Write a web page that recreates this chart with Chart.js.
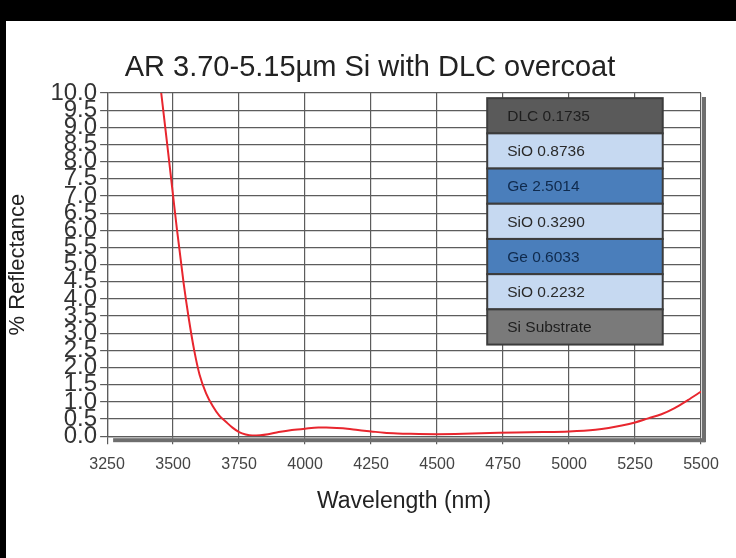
<!DOCTYPE html>
<html>
<head>
<meta charset="utf-8">
<script src="https://cdn.jsdelivr.net/npm/chart.js@4/dist/chart.umd.min.js"></script>
<style>
  html, body { margin: 0; padding: 0; background: #fff; }
  #wrap { width: 736px; height: 558px; position: relative; }
</style>
</head>
<body>
<div id="wrap"><canvas id="grafico"></canvas></div>
<script>
// curva de reflectância
const comprimentos = [3440, 3455, 3480, 3500, 3515, 3540, 3560, 3580, 3600, 3625, 3650, 3675, 3700, 3725, 3750, 3775, 3800, 3830, 3860, 3900, 3950, 4000, 4050, 4080, 4120, 4160, 4200, 4250, 4300, 4350, 4400, 4500, 4600, 4700, 4800, 4900, 5000, 5100, 5150, 5200, 5250, 5300, 5350, 5400, 5450, 5500];
const reflectancia = [11.0, 10.0, 8.35, 7.0, 6.0, 4.45, 3.4, 2.5, 1.8, 1.25, 0.88, 0.6, 0.42, 0.25, 0.12, 0.05, 0.02, 0.03, 0.06, 0.12, 0.18, 0.22, 0.25, 0.25, 0.24, 0.22, 0.18, 0.14, 0.1, 0.08, 0.07, 0.06, 0.07, 0.09, 0.11, 0.12, 0.14, 0.19, 0.24, 0.31, 0.4, 0.52, 0.64, 0.82, 1.05, 1.3];

// camadas do revestimento
const camadas = ["DLC 0.1735", "SiO 0.8736", "Ge 2.5014", "SiO 0.3290", "Ge 0.6033", "SiO 0.2232", "Si Substrate"];
const coresCamadas = ["#5a5a5a", "#c6d9f1", "#4a7ebb", "#c6d9f1", "#4a7ebb", "#c6d9f1", "#7a7a7a"];
const coresTexto = ["#1e1e1e", "#2a2a2a", "#0f2a4d", "#2a2a2a", "#0f2a4d", "#2a2a2a", "#1e1e1e"];

const titulo = "AR 3.70-5.15µm Si with DLC overcoat";

const pontos = comprimentos.map((c, i) => ({ x: c, y: reflectancia[i] }));

// fundo com as faixas pretas da imagem original + título
const fundo = {
  id: "fundo",
  beforeDraw(chart) {
    const ctx = chart.ctx;
    ctx.save();
    ctx.fillStyle = "#fff";
    ctx.fillRect(0, 0, chart.width, chart.height);
    ctx.fillStyle = "#000";
    ctx.fillRect(0, 0, chart.width, 21);
    ctx.fillRect(0, 0, 6, chart.height);
    ctx.fillStyle = "#222";
    ctx.font = "29px 'Liberation Sans', Arial, sans-serif";
    ctx.textAlign = "center";
    ctx.textBaseline = "middle";
    ctx.fillText(titulo, 370, 68);
    ctx.restore();
  }
};

// sombra cinza embaixo e à direita da área do gráfico
const sombra = {
  id: "sombra",
  afterDraw(chart) {
    const { left, right, top, bottom } = chart.chartArea;
    const ctx = chart.ctx;
    ctx.save();
    ctx.fillStyle = "#6e6e6e";
    ctx.fillRect(left + 6, bottom + 2, right - left - 2, 4);
    ctx.fillRect(right + 1, top + 4, 4, bottom - top + 2);
    ctx.restore();
  }
};

// tabela das camadas
const tabela = {
  id: "tabela",
  afterDatasetsDraw(chart) {
    const x = chart.scales.x, y = chart.scales.y;
    const x0 = x.getPixelForValue(4690), x1 = x.getPixelForValue(5355);
    const y0 = y.getPixelForValue(9.85), y1 = y.getPixelForValue(2.67);
    const h = (y1 - y0) / camadas.length;
    const ctx = chart.ctx;
    ctx.save();
    camadas.forEach((nome, i) => {
      const yy = y0 + i * h;
      ctx.fillStyle = coresCamadas[i];
      ctx.fillRect(x0, yy, x1 - x0, h);
      ctx.strokeStyle = "#3c3c3c";
      ctx.lineWidth = 2;
      ctx.strokeRect(x0, yy, x1 - x0, h);
      ctx.fillStyle = coresTexto[i];
      ctx.font = "15.5px 'Liberation Sans', Arial, sans-serif";
      ctx.textBaseline = "middle";
      ctx.fillText(nome, x0 + 20, yy + h / 2 + 1);
    });
    ctx.restore();
  }
};

new Chart(document.getElementById("grafico"), {
  type: "line",
  data: {
    datasets: [{
      data: pontos,
      borderColor: "#e8262e",
      borderWidth: 2,
      pointRadius: 0,
      cubicInterpolationMode: "monotone",
      fill: false
    }]
  },
  options: {
    responsive: true,
    maintainAspectRatio: false,
    animation: false,
    layout: { padding: { left: 0, right: 35, top: 93, bottom: 43 } },
    plugins: {
      legend: { display: false },
      tooltip: { enabled: false },
      title: { display: false }
    },
    scales: {
      x: {
        type: "linear",
        min: 3250,
        max: 5500,
        grid: { color: "#5c5c5c", lineWidth: 1.2, tickLength: 8 },
        border: { color: "#5c5c5c", width: 1.2 },
        ticks: {
          stepSize: 250,
          color: "#444",
          padding: 11,
          maxRotation: 0,
          font: { family: "'Liberation Sans', Arial, sans-serif", size: 16 },
          callback: v => String(v)
        },
        title: {
          display: true,
          text: "Wavelength (nm)",
          color: "#222",
          font: { family: "'Liberation Sans', Arial, sans-serif", size: 23 },
          padding: { top: 2, bottom: 0 }
        }
      },
      y: {
        min: 0,
        max: 10,
        grid: { color: "#5c5c5c", lineWidth: 1.2, tickLength: 7 },
        border: { color: "#5c5c5c", width: 1.2 },
        ticks: {
          stepSize: 0.5,
          autoSkip: false,
          color: "#333",
          padding: 3,
          font: { family: "'Liberation Sans', Arial, sans-serif", size: 24 },
          callback: v => v.toFixed(1)
        },
        title: {
          display: true,
          text: "% Reflectance",
          color: "#222",
          font: { family: "'Liberation Sans', Arial, sans-serif", size: 22 },
          padding: { top: 5, bottom: 16 }
        }
      }
    }
  },
  plugins: [fundo, sombra, tabela]
});
</script>
</body>
</html>
